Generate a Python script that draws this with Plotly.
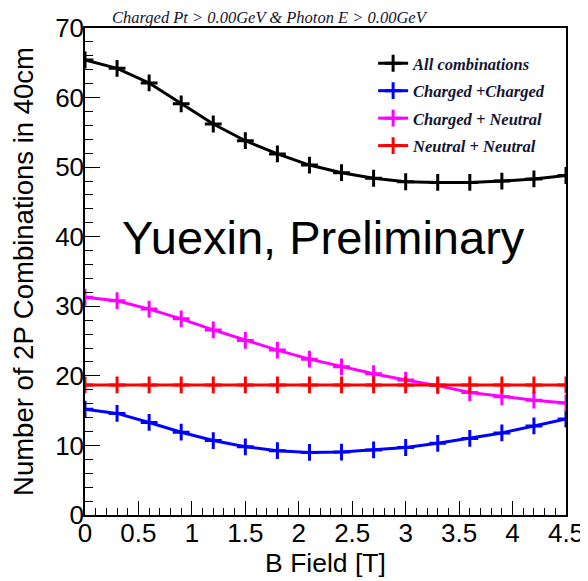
import plotly.graph_objects as go

b_field = [0.0, 0.3, 0.6, 0.9, 1.2, 1.5, 1.8, 2.1, 2.4, 2.7, 3.0, 3.3, 3.6, 3.9, 4.2, 4.5]
all_comb = [65.4, 64.2, 62.1, 59.1, 56.2, 53.8, 51.9, 50.3, 49.2, 48.4, 47.9, 47.8, 47.8, 48.0, 48.3, 48.8]
charged_charged = [15.2, 14.6, 13.3, 11.9, 10.7, 9.8, 9.25, 9.0, 9.05, 9.35, 9.7, 10.3, 11.0, 11.8, 12.8, 13.8]
charged_neutral = [31.3, 30.8, 29.6, 28.2, 26.6, 25.1, 23.7, 22.4, 21.3, 20.3, 19.4, 18.6, 17.6, 17.0, 16.5, 16.1]
neutral_neutral = [18.7] * 16

series_names = ["All combinations", "Charged +Charged", "Charged + Neutral", "Neutral + Neutral"]
series_values = [all_comb, charged_charged, charged_neutral, neutral_neutral]
series_colors = ["#000000", "#0000ff", "#ff00ff", "#ff0000"]

fig = go.Figure()
for name, vals, col in zip(series_names, series_values, series_colors):
    fig.add_trace(go.Scatter(
        x=b_field, y=vals, name="<b><i>" + name + "</i></b>", mode="lines+markers",
        line=dict(color=col, width=3),
        marker=dict(symbol="cross-thin", size=12, color=col, line=dict(color=col, width=3)),
        legendgroup=name,
    ))

axis_common = dict(
    showline=True, linecolor="black", linewidth=1.5, mirror=True,
    showgrid=False, zeroline=False, automargin=False,
    ticks="inside", tickcolor="black", tickwidth=1.2,
    tickfont=dict(family="Liberation Sans, Arial", size=26, color="black"),
    ticklabelstandoff=-6,
)

fig.update_xaxes(
    range=[0, 4.5], dtick=0.5, tick0=0, ticklen=14,
    minor=dict(dtick=0.1, ticks="inside", ticklen=7, tickcolor="black", tickwidth=1),
    title=dict(text="B Field [T]", font=dict(family="Liberation Sans, Arial", size=26.5, color="black"), standoff=0),
    **axis_common,
)
fig.update_yaxes(
    range=[0, 70], dtick=10, tick0=0, ticklen=15,
    minor=dict(dtick=2, ticks="inside", ticklen=8, tickcolor="black", tickwidth=1),
    title=dict(text="Number of 2P Combinations in 40cm", font=dict(family="Liberation Sans, Arial", size=27.5, color="black"), standoff=17),
    **axis_common,
)

fig.add_annotation(
    text="Yuexin, Preliminary", x=0.495, y=0.569, xref="paper", yref="paper",
    xanchor="center", yanchor="middle",
    showarrow=False, font=dict(family="Liberation Sans, Arial", size=47, color="black"),
)
fig.add_annotation(
    text="<i>Charged Pt &gt; 0.00GeV &amp; Photon E &gt; 0.00GeV</i>", x=0.385, y=1.0, xref="paper", yref="paper",
    yanchor="bottom", xanchor="center", showarrow=False, yshift=-1,
    font=dict(family="Liberation Serif, Times New Roman", size=16.5, color="#141432"),
)

fig.update_layout(
    width=580, height=573,
    margin=dict(l=77, r=22, t=20, b=66),
    paper_bgcolor="white", plot_bgcolor="white",
    showlegend=True,
    legend=dict(
        x=0.599, y=0.963, xanchor="left", yanchor="top",
        bgcolor="rgba(255,255,255,0)", borderwidth=0,
        font=dict(family="Liberation Serif, Times New Roman", size=16.5, color="#141432"),
        tracegroupgap=3, itemwidth=30,
    ),
)

fig.write_html("out.html")
